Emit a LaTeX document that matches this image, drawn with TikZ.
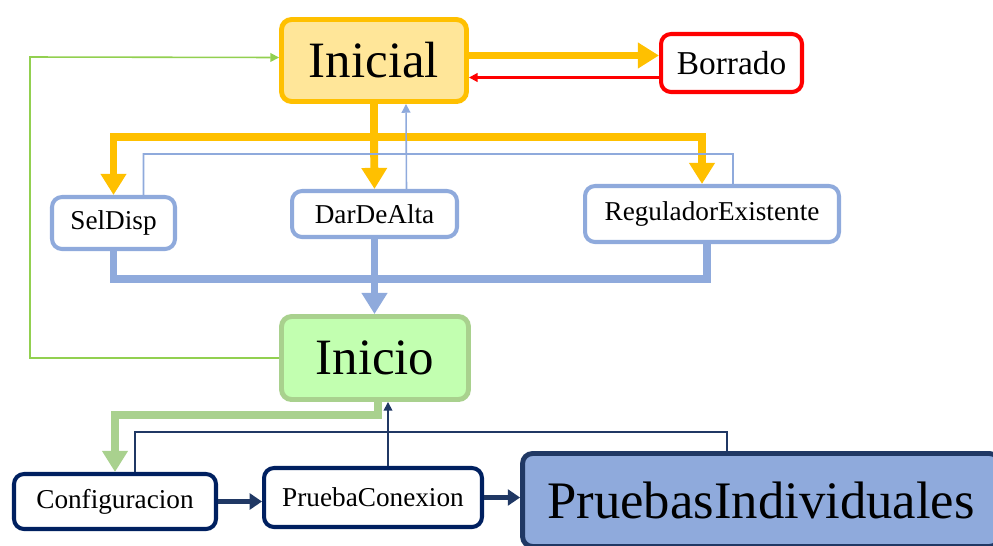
\documentclass[tikz,border=0pt]{standalone}
\usepackage{fontspec}
\setmainfont{Liberation Serif}
\usetikzlibrary{arrows.meta}
\definecolor{naranja}{HTML}{FFC000}
\definecolor{amarillo}{HTML}{FFE699}
\definecolor{azul}{HTML}{8FAADC}
\definecolor{verde}{HTML}{A9D18E}
\definecolor{verdeclaro}{HTML}{C2FFB0}
\definecolor{verdelinea}{HTML}{92D050}
\definecolor{rojo}{HTML}{FF0000}
\definecolor{marino}{HTML}{002060}
\definecolor{marinogris}{HTML}{203864}
\begin{document}
\begin{tikzpicture}[
  x=0.02cm, y=-0.02cm,
  caja/.style={draw,rounded corners=0.2cm,inner sep=0pt,fill=white},
  grande/.style={caja,line width=2.8pt,font=\fontsize{29}{34}\selectfont},
  mediano/.style={caja,line width=2.3pt,font=\fontsize{19}{23}\selectfont},
  chico/.style={caja,line width=2.3pt,font=\fontsize{15.5}{19}\selectfont},
  gruesa/.style={line width=4.5pt,-{Triangle[width=14pt,length=12pt]}},
  media/.style={line width=2.8pt,-{Triangle[width=9pt,length=7pt]}},
  fina/.style={line width=0.9pt},
  flecha/.style={-{Triangle[width=5pt,length=5pt]}}
]
\useasboundingbox (0,0) rectangle (993,545);

\node[grande,draw=naranja,fill=amarillo,minimum width=3.7cm,minimum height=1.64cm]
  (inicial) at (374,60.5) {Inicial};
\node[mediano,draw=rojo,minimum width=2.82cm,minimum height=1.16cm]
  (borrado) at (731.5,63) {Borrado};
\node[chico,draw=azul,minimum width=2.46cm,minimum height=1.04cm]
  (seldisp) at (113.5,223) {SelDisp};
\node[chico,draw=azul,minimum width=3.3cm,minimum height=0.92cm]
  (dardealta) at (374.5,214) {DarDeAlta};
\node[chico,draw=azul,minimum width=5.08cm,minimum height=1.12cm]
  (regulador) at (712,214) {ReguladorExistente};
\node[grande,draw=verde,fill=verdeclaro,minimum width=3.74cm,minimum height=1.66cm]
  (inicio) at (375,358) {Inicio};
\node[chico,draw=marino,minimum width=4.04cm,minimum height=1.1cm]
  (configuracion) at (115,501.5) {Configuracion};
\node[chico,draw=marino,minimum width=4.36cm,minimum height=1.18cm]
  (conexion) at (373,497.5) {PruebaConexion};
\node[grande,draw=marinogris,fill=azul,minimum width=9.54cm,minimum height=1.86cm,
  font=\fontsize{30}{35}\selectfont]
  (individuales) at (761,500) {PruebasIndividuales};

\draw[gruesa,naranja] ([yshift=0.1cm]inicial.east) -- ([yshift=0.1cm]inicial.east -| borrado.west);
\draw[fina,line width=1.2pt,flecha,rojo] ([yshift=-0.34cm]inicial.east -| borrado.west) -- ([yshift=-0.34cm]inicial.east);

\draw[gruesa,naranja,-] (inicial.south) -- (374,137);
\draw[gruesa,naranja] (374,137) -| (seldisp.north);
\draw[gruesa,naranja] (374,137) -- (dardealta.north);
\draw[gruesa,naranja] (374,137) -| ([xshift=-0.2cm]regulador.north);

\draw[fina,azul] ([xshift=0.6cm]seldisp.north) |- (733,154) -- ([xshift=0.42cm]regulador.north);
\draw[fina,flecha,azul] ([xshift=0.64cm]dardealta.north) -- ([xshift=0.64cm]inicial.south);

\draw[gruesa,azul,-] (seldisp.south) -- (113.5,279) -| ([xshift=-0.1cm]regulador.south);
\draw[gruesa,azul] (dardealta.south) -- (dardealta.south |- inicio.north);

\draw[fina,flecha,verdelinea] (inicio.west) -| (30,57) -- ([yshift=0.06cm]inicial.west);
\draw[gruesa,verde] ([xshift=0.06cm]inicio.south) -- (378,415) -| (configuracion.north);

\draw[fina,marinogris] ([xshift=0.4cm]configuracion.north) |- (727,432) -- ([xshift=-0.68cm]individuales.north);
\draw[fina,flecha,marinogris] ([xshift=0.3cm]conexion.north) -- ([xshift=0.3cm]conexion.north |- inicio.south);

\draw[media,marinogris] (configuracion.east) -- (configuracion.east -| conexion.west);
\draw[media,marinogris] (conexion.east) -- (conexion.east -| individuales.west);
\end{tikzpicture}
\end{document}
